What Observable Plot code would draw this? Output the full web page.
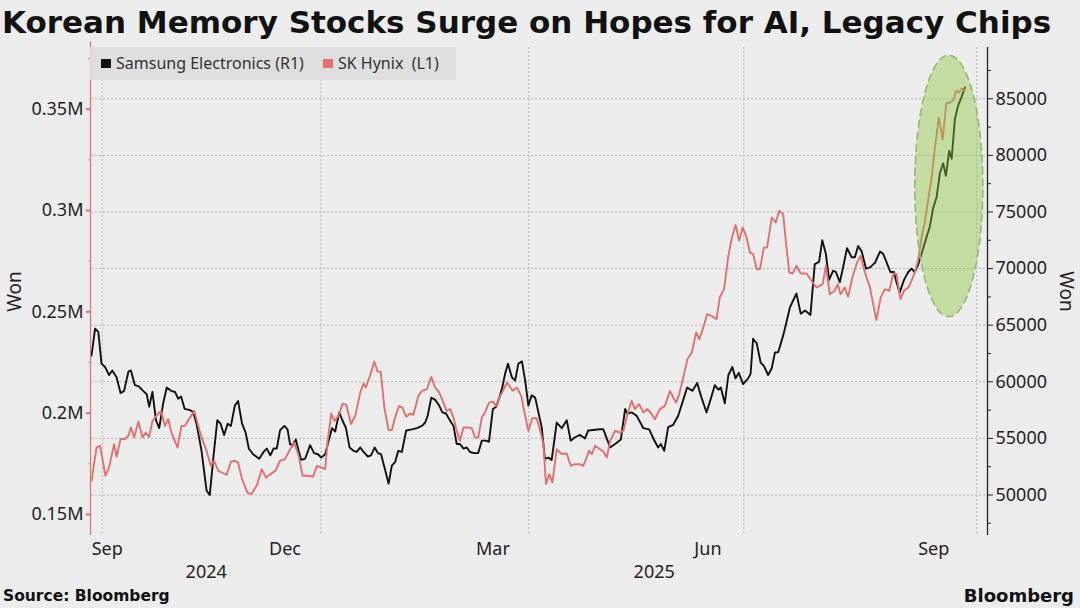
<!DOCTYPE html>
<html>
<head>
<meta charset="utf-8">
<script src="https://cdn.jsdelivr.net/npm/d3@7"></script>
<script src="https://cdn.jsdelivr.net/npm/@observablehq/plot@0.6"></script>
<style>
  html, body { margin:0; padding:0; background:#ededed; width:1080px; height:608px; overflow:hidden; }
  #title { position:absolute; left:2px; top:4px; font-family:"DejaVu Sans", sans-serif; font-weight:bold; font-size:31px; line-height:36px; color:#111; white-space:nowrap; }
  #chart { position:absolute; left:0; top:44px; }
  #legend { position:absolute; left:90px; top:47px; width:366px; height:33px; background:rgba(221,221,221,0.92); font-family:"Noto Sans", sans-serif; font-size:16px; color:#333; }
  #legend .sw { position:absolute; top:12px; width:10px; height:9px; }
  #legend .lb { position:absolute; top:0; line-height:33px; white-space:pre; }
  #source { position:absolute; left:3px; top:589px; font-family:"DejaVu Sans", sans-serif; font-weight:bold; font-size:15.5px; line-height:1; color:#111; }
  #brand { position:absolute; right:6px; top:587px; font-family:"DejaVu Sans", sans-serif; font-weight:bold; font-size:18px; line-height:1; color:#111; }
</style>
</head>
<body>
<div id="title">Korean Memory Stocks Surge on Hopes for AI, Legacy Chips</div>
<div id="chart"></div>
<div id="legend">
  <span class="sw" style="left:11px;background:#111"></span><span class="lb" style="left:26px">Samsung Electronics (R1)</span>
  <span class="sw" style="left:233px;background:#e2716b"></span><span class="lb" style="left:248px">SK Hynix  (L1)</span>
</div>
<div id="source">Source: Bloomberg</div>
<div id="brand">Bloomberg</div>
<script>
// x = trading-day index (0 = 26 Sep 2024 ... 244 = 26 Sep 2025)
const samsung = [
[0,62300],[1,64700],[1.9,64400],[2.8,61600],[3.8,61300],[4.9,60600],[5.8,61000],[7,60400],[8.1,59000],[9.1,59200],[10.3,60900],[11,61000],[12.1,59700],[13.2,59600],[14.4,59200],[15.4,58900],[16.1,57800],[17,59100],[18,56600],[18.9,55900],[20,58100],[21,59500],[22.2,59200],[23.3,59100],[24.2,58500],[25,58700],[26,57600],[27.5,57500],[28.4,57300],[29.3,56300],[30.7,53900],[32.1,50400],[33,50000],[34,53300],[35.1,56600],[36,56300],[37,55300],[38,56300],[38.9,56100],[40,57900],[40.9,58300],[42,56300],[43,55500],[43.9,54100],[45.1,53600],
[46.8,53200],[48,53800],[48.9,54100],[49.9,53500],[50.8,54100],[51.7,54100],[52.6,55700],[53.8,56100],[54.7,55800],[55.4,54500],[56.1,54400],[57,54900],[57.8,53900],[58.5,53100],[59.6,53200],[61,54400],[62.1,53700],[63.2,53600],[64.1,53300],[65.2,53600],[66.1,54700],[67.1,55900],[68,55600],[69.1,57300],[70,56600],[71,55900],[72,54200],[73.1,53900],[74,53800],[75,54200],[75.9,53800],[77.1,53400],[78,53500],[79,54200],[79.9,53700],[80.8,53600],[81.7,52500],[82.9,51000],[83.8,52600],[84.7,52900],[85.6,53900],[86.6,53800],[87.8,55700],[89.4,55800],[90.8,55900],[92.2,56100],[93.1,56400],
[93.8,57000],[94.8,58600],[95.9,58400],[97,57900],[97.9,57300],[98.9,57200],[99.8,56700],[101,56100],[101.9,54500],[102.8,54500],[103.8,54100],[104.7,54200],[105.6,53800],[106.8,53700],[107.9,53700],[108.9,54800],[110,54800],[110.9,54700],[112,57600],[112.9,57800],[113.8,58600],[114.6,59500],[115.4,60700],[116.2,61600],[117.3,60400],[118.2,60100],[119.1,61600],[120.1,61800],[121,60100],[121.9,57900],[122.8,58800],[123.8,58600],[124.7,57300],[125.6,56000],[126.5,53200],[127.5,53300],[128.4,53100],[129.8,56400],[131.2,55900],[132.6,56600],[133.7,54800],[134.9,55100],[136.3,55300],[137.7,55000],[138.6,55700],[141.9,55800],
[142.8,55800],[144.7,54200],[146.1,54500],[147.7,54900],[148.9,57600],[149.5,57200],[150.7,57300],[152.1,57000],[154,55900],[155.6,55800],[156.9,54900],[158.1,54200],[158.9,54500],[159.8,53900],[160.9,56000],[162.3,56200],[163.7,57000],[165.3,58600],[166.2,59500],[167.7,59200],[169,59900],[170.2,58600],[171.6,57300],[172.7,58400],[173.9,59700],[174.9,59300],[175.6,59500],[176.7,58100],[177.7,60600],[178.8,61300],[179.7,60300],[180.6,60800],[181.8,59800],[183.2,60300],[183.9,60700],[184.6,63800],[185.6,63400],[186.7,61700],[187.6,61400],[188.8,60600],[189.8,61200],[190.7,62600],[191.6,62600],[193,64100],
[193.7,65000],[194.9,66600],[196.7,67800],[197.9,66000],[199.1,66300],[200.6,65900],[201.8,70400],[203,70600],[203.9,72500],[204.9,71300],[205.8,69000],[206.9,69800],[207.7,69700],[208.8,68800],[209.7,70100],[210.8,71800],[212.1,71000],[213,71000],[213.9,72000],[214.9,71500],[216.1,70000],[217.2,70100],[218.6,70500],[220,71500],[220.9,71300],[221.8,70600],[222.9,69700],[223.9,69700],[224.6,68800],[225.5,67900],[226.7,69000],[227.9,69700],[228.8,70000],[229.7,69700],[230.6,70300],[231.6,71300],[233,72800],[233.9,73700],[234.8,75300],[235.8,76300],[236.7,78400],[237.6,79300],[238.4,78200],[239.3,80400],[240,79700],[240.9,83200],[241.8,84400],[242.7,85100],[243.7,86000]
];
const hynix = [
[0,166600],[1.4,183000],[2.4,183900],[3.9,169100],[4.9,173200],[6.3,184700],[7,178400],[8.1,187200],[9.3,187200],[10.3,188800],[11,192900],[11.9,188000],[13.1,195900],[14.2,188000],[15.1,190400],[16.1,188300],[17,196200],[18.4,199200],[19.4,201100],[20.5,193700],[21.4,197000],[22.3,190400],[24,183000],[25.1,193700],[26.1,193700],[27,196500],[28.7,201100],[29.8,193700],[30.7,188000],[31.8,183000],[33.3,174000],[34.2,176500],[35.4,171500],[36.3,170700],[37.7,169500],[38.9,176100],[40,176500],[40.9,175600],[42,167400],[43.5,160800],[44.6,160000],
[46.2,164600],[47.5,172400],[48.7,168200],[49.9,169900],[51.3,171500],[52.6,176500],[54,177300],[55.4,182200],[56.6,185500],[57.8,178900],[58.9,169100],[60.5,169100],[61.8,168600],[62.9,174000],[64.1,173200],[65.2,172400],[65.9,186300],[66.9,199800],[67.8,196200],[68.9,198700],[70.1,204700],[71.1,204100],[72.4,194600],[73.6,198700],[75,210200],[75.9,214600],[76.5,212600],[77.7,218400],[78.9,225500],[79.8,220500],[80.7,220500],[81.7,202800],[82.9,191600],[83.8,191600],[84.7,197800],[85.8,203600],[86.7,202800],[87.8,198200],[88.9,199800],[89.8,199200],
[91.2,208500],[92.2,211000],[93.6,211900],[94.8,217900],[95.9,212600],[97,210200],[98.2,205200],[99.1,201100],[100.1,202000],[101,197800],[101.9,191300],[102.8,186300],[103.8,192900],[105.2,192900],[106.1,192600],[107,188000],[107.9,188000],[108.9,197800],[109.8,200300],[110.9,205200],[112,205700],[112.9,203600],[113.8,207700],[114.8,211000],[115.9,215100],[116.6,213500],[117.5,211000],[118.7,212600],[119.9,208500],[120.8,200300],[121.9,191300],[123,197500],[124.2,197500],[125.2,191300],[126.1,184700],[126.8,165000],[127.7,169900],[128.6,165800],[129.8,182200],[131.2,179800],[132.6,180100],[133.7,174000],[134.9,174800],[136.3,174800],[137.2,174000],[138,177300],[138.8,181400],[139.6,179800],[140.5,183900],[141.9,182200],
[142.8,181100],[143.8,178100],[144.7,186300],[146.1,191300],[147.5,190400],[148.4,191300],[149.3,197800],[150.7,206100],[151.6,202000],[152.8,204400],[154,200300],[155.1,202000],[156.3,199500],[157.2,197000],[158.6,202000],[160,203600],[161.4,211000],[162.3,207700],[163.1,205200],[164,209400],[165.1,217600],[166.3,226700],[167.5,229900],[168.7,239800],[169.6,236500],[170.7,242300],[171.8,248900],[173,248000],[174.4,246400],[175.3,257100],[176.5,261200],[177.7,277700],[178.6,285900],[179.7,292900],[180.7,285100],[181.7,291600],[182.8,286700],[183.7,279300],[184.6,278500],[185.6,271100],[186.5,271100],[187.6,281700],[188.5,281700],[189.8,296600],[190.9,294100],[191.9,299900],
[193,298200],[193.7,285100],[194.7,269400],[195.6,268900],[196.7,272700],[197.9,268900],[199.5,268900],[201.2,264500],[202.3,262000],[204,263700],[204.9,272700],[206,258700],[207.4,260400],[208.2,263700],[209,258700],[210.2,262000],[211.1,257400],[212.3,266900],[213.6,274300],[214.6,277600],[215.8,269400],[217.2,262000],[218.1,253800],[219,245900],[220.2,257100],[221.4,261200],[222.6,260400],[223.7,268900],[224.6,268600],[225.7,256300],[226.7,260400],[227.9,262000],[228.8,265300],[229.7,269400],[230.6,275200],[231.6,286700],[232.5,294100],[233.4,304800],[234.4,316000],[235.3,330500],[236.4,345800],[237.5,335000],[238.5,352800],[239.5,353300],[240.4,354300],[241.3,359200],[242,358200],[242.8,360200],[243.7,359200]
];

// axes
const rightTicks = [50000, 55000, 60000, 65000, 70000, 75000, 80000, 85000];
const rightMinor = [47500, 52500, 57500, 62500, 67500, 72500, 77500, 82500, 87500];
const leftTicks = [150000, 200000, 250000, 300000, 350000];
const leftMinor = [175000, 225000, 275000, 325000, 375000];
const quarterStarts = [3, 64, 122, 182, 247];
const monthLabels = [{day:4.4, label:"Sep"}, {day:54, label:"Dec"}, {day:112, label:"Mar"}, {day:172, label:"Jun"}, {day:235, label:"Sep"}];
const yearLabels = [{day:32, label:"2024"}, {day:157, label:"2025"}];
const xDomain = [0, 250];
const yDomain = [46420, 89530];
// alignment of left (L1) axis onto the right (R1) axis
const leftAlign = {v0:150000, r0:48280, v1:350000, r1:84080};
const toR = v => leftAlign.r0 + (v - leftAlign.v0) * (leftAlign.r1 - leftAlign.r0) / (leftAlign.v1 - leftAlign.v0);
const fromR = r => leftAlign.v0 + (r - leftAlign.r0) * (leftAlign.v1 - leftAlign.v0) / (leftAlign.r1 - leftAlign.r0);
// highlight annotation (in data units)
const highlight = {day:239.2, won:77300, rDay:9.5, rWon:11550};

const samsungRows = samsung.map(([day, won]) => ({day, won}));
const hynixRows = hynix.map(([day, won]) => ({day, won, r: toR(won)}));
const ellipse = d3.range(0, 72).map(k => {
  const t = k / 72 * 2 * Math.PI;
  return {day: highlight.day + highlight.rDay * Math.cos(t), won: highlight.won + highlight.rWon * Math.sin(t)};
});

const red = "#e2716b";
const chart = Plot.plot({
  width: 1080, height: 545,
  marginTop: 3, marginBottom: 54, marginLeft: 91, marginRight: 93,
  style: {background: "transparent", fontFamily: "'Noto Sans', sans-serif", fontSize: "18px", color: "#222", overflow: "visible"},
  x: {domain: xDomain, axis: null},
  y: {domain: yDomain, axis: null},
  marks: [
    Plot.gridY(rightTicks, {stroke: "#b4b4b4", strokeOpacity: 1, strokeDasharray: "2,2"}),
    Plot.gridX(quarterStarts, {stroke: "#b4b4b4", strokeOpacity: 1, strokeDasharray: "2,2"}),
    Plot.line(samsungRows, {x: "day", y: "won", stroke: "#111", strokeWidth: 1.9}),
    Plot.line(hynixRows, {x: "day", y: "r", stroke: red, strokeWidth: 1.9}),
    Plot.line(ellipse, {x: "day", y: "won", curve: "linear-closed", fill: "#8cc83c", fillOpacity: 0.42, stroke: "#93b872", strokeWidth: 1.6, strokeDasharray: "7,5"}),
    // right axis (R1)
    Plot.ruleX([xDomain[1]], {stroke: "#222", strokeWidth: 1.3}),
    Plot.axisY(rightTicks, {anchor: "right", tickSize: 5, tickPadding: 3, tickFormat: "d", label: null, stroke: "#222", fill: "#222"}),
    Plot.axisY(rightMinor, {anchor: "right", tickSize: 3, tickFormat: () => "", label: null, stroke: "#222"}),
    // left axis (L1)
    Plot.ruleX([xDomain[0]], {y1: yDomain[0], y2: toR(383000), dx: -1, stroke: red, strokeWidth: 1.2}),
    Plot.axisY(leftTicks.map(toR), {anchor: "left", tickSize: 5, tickPadding: 3, strokeWidth: 2, stroke: red, fill: "#222", label: null,
      tickFormat: r => (Math.round(fromR(r) / 10000) * 10000 / 1e6) + "M"}),
    Plot.axisY(leftMinor.map(toR), {anchor: "left", tickSize: 3, tickFormat: () => "", label: null, stroke: "#c99"}),
    // axis titles
    Plot.text(["Won"], {frameAnchor: "left", dx: -77, rotate: -90, textAnchor: "middle", lineAnchor: "middle", fontSize: 19, fill: "#222"}),
    Plot.text(["Won"], {frameAnchor: "right", dx: 79, rotate: 90, textAnchor: "middle", lineAnchor: "middle", fontSize: 19, fill: "#222"}),
    // time axis
    Plot.text(monthLabels, {x: "day", text: "label", frameAnchor: "bottom", dy: 14, lineAnchor: "middle", textAnchor: "middle", fill: "#222"}),
    Plot.text(yearLabels, {x: "day", text: "label", frameAnchor: "bottom", dy: 37, lineAnchor: "middle", textAnchor: "middle", fill: "#222"})
  ]
});
document.getElementById("chart").appendChild(chart);
</script>
</body>
</html>
